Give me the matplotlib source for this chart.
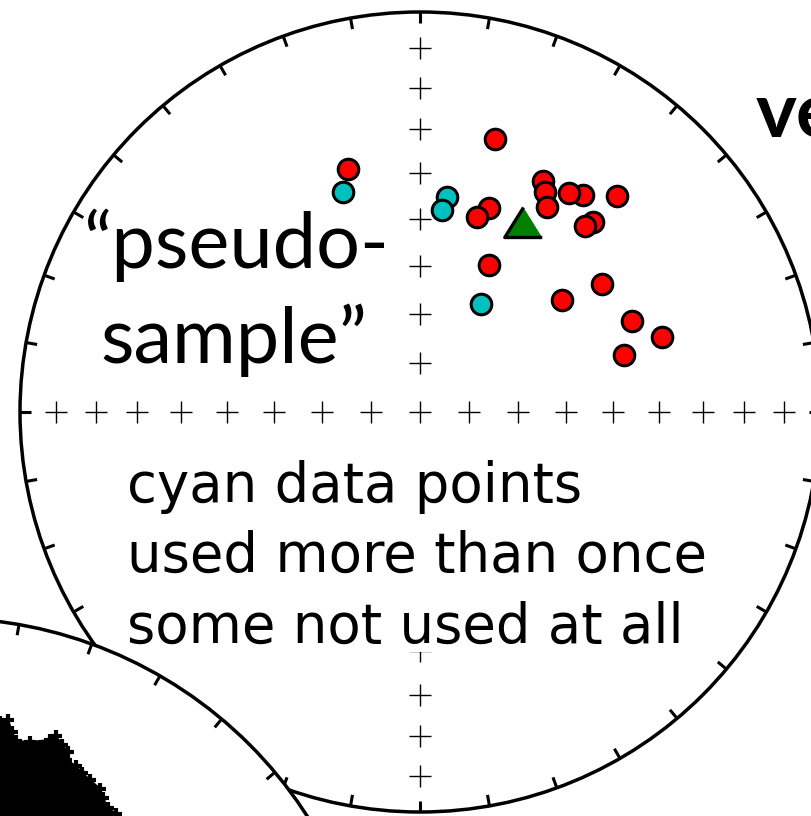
import numpy as np
import matplotlib
matplotlib.use("Agg")
import matplotlib.pyplot as plt
from matplotlib.patches import Circle, Rectangle, Polygon

# ---------------- data (equal-area projection, unit net radius) ----------------
red_x = [-0.180, 0.1875, 0.3075, 0.3125, 0.3175, 0.4075, 0.3725, 0.4925,
         0.4325, 0.4125, 0.1725, 0.1425, 0.1725, 0.355, 0.455, 0.530, 0.605, 0.510]
red_y = [0.6075, 0.6825, 0.5775, 0.550, 0.5125, 0.5425, 0.5475, 0.540,
         0.475, 0.465, 0.510, 0.4875, 0.3675, 0.280, 0.320, 0.2275, 0.1875, 0.1425]
cyan_x = [-0.1925, 0.0675, 0.055, 0.1525]
cyan_y = [0.550, 0.5375, 0.505, 0.270]
mean_x = [0.2575]
mean_y = [0.475]

# bootstrap cloud outline on the neighbouring net (lower left)
cloud_x = [-1.075, -1.05, -1.03, -1.02, -1.01, -0.975, -0.925, -0.91, -0.895, -0.88,
           -0.885, -0.86, -0.845, -0.825, -0.80, -0.7925, -0.78, -0.76, -0.75, -1.075]
cloud_y = [-0.775, -0.775, -0.77, -0.80, -0.8225, -0.825, -0.82, -0.81, -0.8325, -0.85,
           -0.87, -0.885, -0.9025, -0.92, -0.9425, -0.965, -0.99, -1.005, -1.025, -1.025]

grid_colat_deg = [0, 10, 20, 30, 40, 50, 60, 70, 80]
rim_tick_deg = list(range(0, 360, 10))

label_quote = ["\u201cpseudo-", "sample\u201d"]
label_note = ["cyan data points", "used more than once", "some not used at all"]
label_edge = "ve"

# ---------------- figure ----------------
W, H = 811, 816
fig = plt.figure(figsize=(W / 100, H / 100), dpi=100)
ax = fig.add_axes([0, 0, 1, 1])
ax.set_xlim(-1.05, 0.9775)
ax.set_ylim(-1.01, 1.03)
ax.axis("off")

def px(xp, yp):
    return (xp - 420) / 400.0, (412 - yp) / 400.0

# main net
ax.add_patch(Circle((0, 0), 1.0, fill=False, lw=2.5, ec="black", zorder=2))
for a in rim_tick_deg:
    t = np.radians(a)
    ax.plot([np.sin(t), 0.972 * np.sin(t)], [np.cos(t), 0.972 * np.cos(t)],
            color="black", lw=2.2, solid_capstyle="butt", zorder=2)
r = np.sqrt(2) * np.sin(np.radians(np.array(grid_colat_deg) / 2.0))
cx = np.concatenate([r, -r[1:], np.zeros(len(r) - 1), np.zeros(len(r) - 1)])
cy = np.concatenate([np.zeros(len(r)), np.zeros(len(r) - 1), r[1:], -r[1:]])
ax.plot(cx, cy, "+", color="black", ms=16.5, mew=1.0, zorder=2)

# data
for i in range(len(red_x)):
    ax.plot(red_x[i], red_y[i], "o", color="#ff0000", mec="black", ms=14.8, mew=2.2, zorder=4)
ax.plot(cyan_x, cyan_y, "o", color="#00c0c0", mec="black", ms=14.8, mew=2.2, zorder=5, ls="none")
tri = [(0, 0.8), (-1, -0.8), (1, -0.8)]
ax.plot(mean_x, mean_y, marker=tri, color="#008000", mec="black", ms=27, mew=2.4,
        ls="none", zorder=6)

# white panel behind note text
x0, y0 = px(118, 652)
x1, y1 = px(712, 432)
ax.add_patch(Rectangle((x0, y0), x1 - x0, y1 - y0, fc="white", ec="none", zorder=7))

# neighbouring net (lower left), drawn on top
c2 = px(-56, 1050)
R2 = 432 / 400.0
ax.add_patch(Circle(c2, R2, fc="white", lw=2.5, ec="black", zorder=8))
for a in rim_tick_deg:
    t = np.radians(a)
    ax.plot([c2[0] + R2 * np.sin(t), c2[0] + (R2 - 0.027) * np.sin(t)],
            [c2[1] + R2 * np.cos(t), c2[1] + (R2 - 0.027) * np.cos(t)],
            color="black", lw=2.2, solid_capstyle="butt", zorder=8)
ax.add_patch(Polygon(list(zip(cloud_x, cloud_y)), closed=True, fc="black", ec="black",
                     lw=1.5, zorder=9))
ax.plot(cloud_x[1:-1], cloud_y[1:-1], "+", color="black", ms=9, mew=3, zorder=9, ls="none")

# ---------------- text ----------------
renderer = fig.canvas.get_renderer()

def fitted(s, xp, yp, width_px, **kw):
    x, y = px(xp, yp)
    t = ax.text(x, y, s, ha="left", va="baseline", fontsize=40, zorder=10, **kw)
    w = t.get_window_extent(renderer).width
    t.set_fontsize(40 * width_px / w)
    return t

tq = fitted(label_quote[0], 83, 268, 305, family="Lato")
fs_q = tq.get_fontsize()
x, y = px(100, 363)
ax.text(x, y, label_quote[1], ha="left", va="baseline", fontsize=fs_q, family="Lato", zorder=10)

tn = fitted(label_note[1], 127, 572, 579, family="DejaVu Sans")
fs_n = tn.get_fontsize()
for s, yp in [(label_note[0], 502), (label_note[2], 643)]:
    x, y = px(127, yp)
    ax.text(x, y, s, ha="left", va="baseline", fontsize=fs_n, family="DejaVu Sans", zorder=10)

x, y = px(756, 138)
ax.text(x, y, label_edge, ha="left", va="baseline", fontsize=fs_q, family="Lato",
        fontweight="bold", zorder=10)

fig.savefig("out.png", dpi=100)
